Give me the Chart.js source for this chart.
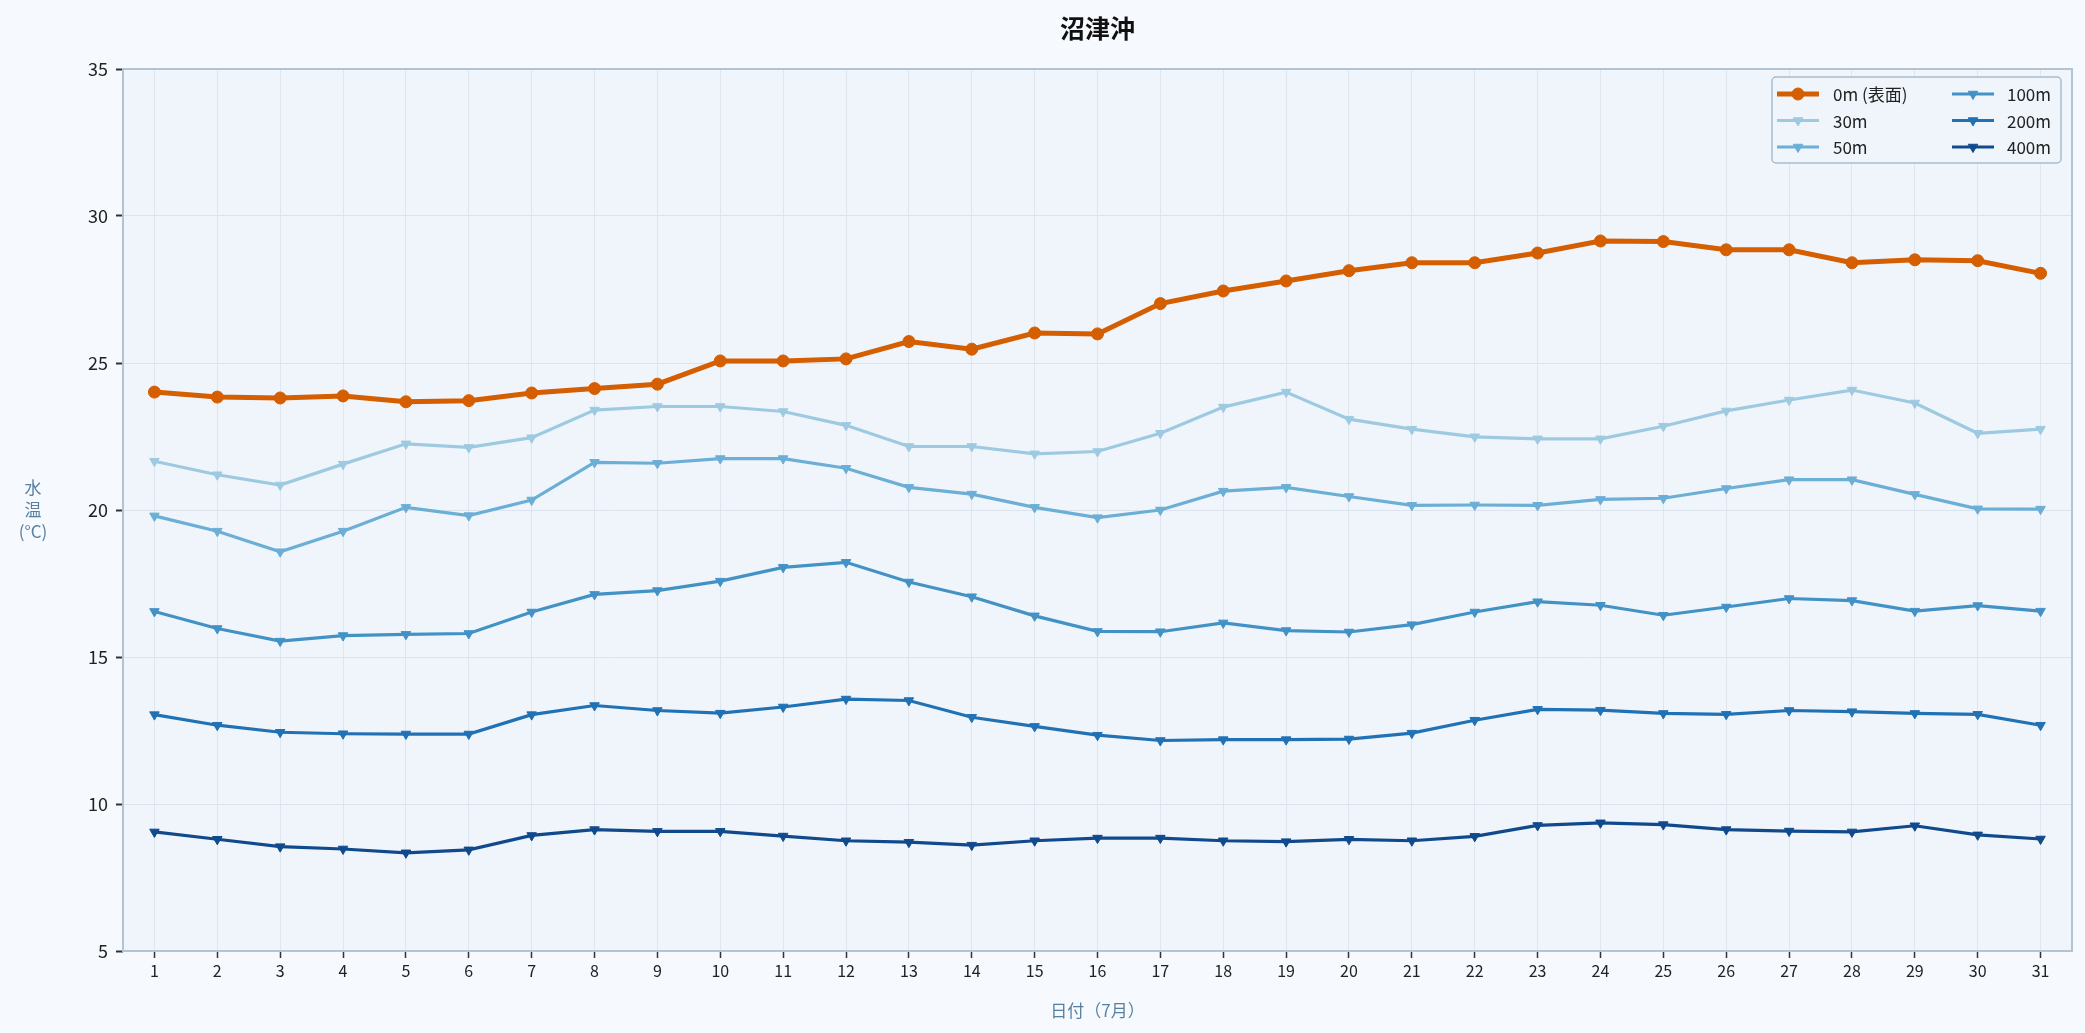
<!DOCTYPE html>
<html>
<head>
<meta charset="utf-8">
<script src="https://cdn.jsdelivr.net/npm/chart.js@4.4.1/dist/chart.umd.min.js"></script>
<style>
  html, body { margin: 0; padding: 0; background: #f6f9fd; }
  #wrap { width: 2085px; height: 1033px; }
</style>
</head>
<body>
<div id="wrap"><canvas id="js-chart-numazu"></canvas></div>
<script>
// Data (July, Numazu offshore water temperature)
const days = ['1','2','3','4','5','6','7','8','9','10','11','12','13','14','15','16','17','18','19','20','21','22','23','24','25','26','27','28','29','30','31'];
const depthLabels = ['0m (表面)', '30m', '50m', '100m', '200m', '400m'];
const temp0m   = [24.01, 23.84, 23.81, 23.88, 23.68, 23.72, 23.98, 24.13, 24.28, 25.07, 25.07, 25.14, 25.73, 25.47, 26.02, 25.99, 27.02, 27.45, 27.79, 28.14, 28.41, 28.41, 28.74, 29.15, 29.13, 28.85, 28.85, 28.41, 28.51, 28.48, 28.05];
const temp30m  = [21.66, 21.20, 20.85, 21.56, 22.25, 22.13, 22.46, 23.40, 23.52, 23.52, 23.35, 22.88, 22.16, 22.16, 21.91, 21.99, 22.61, 23.50, 24.01, 23.09, 22.75, 22.49, 22.42, 22.42, 22.85, 23.37, 23.74, 24.08, 23.64, 22.61, 22.75];
const temp50m  = [19.80, 19.28, 18.58, 19.28, 20.09, 19.81, 20.34, 21.62, 21.59, 21.75, 21.75, 21.42, 20.77, 20.54, 20.09, 19.74, 20.00, 20.64, 20.77, 20.46, 20.16, 20.17, 20.16, 20.36, 20.40, 20.73, 21.03, 21.03, 20.53, 20.04, 20.03];
const temp100m = [16.55, 15.97, 15.54, 15.73, 15.77, 15.80, 16.53, 17.13, 17.26, 17.58, 18.05, 18.22, 17.55, 17.05, 16.40, 15.87, 15.86, 16.16, 15.90, 15.85, 16.10, 16.53, 16.88, 16.76, 16.42, 16.70, 16.99, 16.92, 16.56, 16.75, 16.56];
const temp200m = [13.04, 12.68, 12.44, 12.39, 12.38, 12.38, 13.04, 13.35, 13.18, 13.09, 13.30, 13.57, 13.52, 12.95, 12.64, 12.34, 12.16, 12.19, 12.19, 12.21, 12.41, 12.85, 13.22, 13.19, 13.08, 13.05, 13.18, 13.14, 13.08, 13.05, 12.68];
const temp400m = [9.05, 8.80, 8.55, 8.47, 8.34, 8.44, 8.93, 9.13, 9.07, 9.07, 8.91, 8.75, 8.70, 8.60, 8.75, 8.84, 8.84, 8.75, 8.72, 8.80, 8.75, 8.90, 9.27, 9.36, 9.30, 9.13, 9.08, 9.05, 9.26, 8.95, 8.81];
const yTicks = [5, 10, 15, 20, 25, 30, 35];

const FONT = "'Noto Sans CJK JP', 'Noto Sans', sans-serif";

// Line helper: triangle-down markers for the deep layers
function depthSeries(label, data, color, width) {
  return {
    label: label,
    data: data,
    borderColor: color,
    backgroundColor: color,
    borderWidth: width,
    pointStyle: 'triangle',
    rotation: 180,
    pointRadius: 5.5,
    pointBorderWidth: 1,
    pointBorderColor: color,
    pointBackgroundColor: color,
    tension: 0
  };
}

// Draw plot background, frame, title, stacked y title and in-plot legend
const framePlugin = {
  id: 'framePlugin',
  beforeDraw(chart) {
    const {ctx, chartArea: a} = chart;
    ctx.save();
    ctx.fillStyle = '#f0f5fc';
    ctx.fillRect(a.left, a.top, a.right - a.left, a.bottom - a.top);
    ctx.restore();
  },
  afterDraw(chart) {
    const {ctx, chartArea: a} = chart;
    ctx.save();
    // frame
    ctx.strokeStyle = '#b2c4d4';
    ctx.lineWidth = 2;
    ctx.strokeRect(a.left, a.top, a.right - a.left, a.bottom - a.top);

    // title
    ctx.fillStyle = '#111';
    ctx.font = 'bold 25px ' + FONT;
    ctx.textAlign = 'center';
    ctx.textBaseline = 'middle';
    ctx.fillText('沼津沖', (a.left + a.right) / 2, 28);

    // y axis title, stacked horizontally
    ctx.fillStyle = '#5a80a0';
    ctx.font = '17px ' + FONT;
    const yc = (a.top + a.bottom) / 2;
    ['水', '温', '(°C)'].forEach((t, i) => ctx.fillText(t, 33, yc - 22 + i * 22));

    // legend (two columns, column-major)
    const ds = chart.data.datasets;
    const bx = 1772, by = 77, bw = 289, bh = 86;
    ctx.fillStyle = 'rgba(240,245,252,0.9)';
    ctx.strokeStyle = '#a9bccc';
    ctx.lineWidth = 1.5;
    ctx.beginPath();
    ctx.roundRect(bx, by, bw, bh, 4);
    ctx.fill();
    ctx.stroke();
    ctx.font = '17px ' + FONT;
    ctx.textAlign = 'left';
    const colX = [1777, 1952];
    const textX = [1833, 2007];
    ds.forEach((d, i) => {
      const col = Math.floor(i / 3), row = i % 3;
      const x0 = colX[col], y0 = by + 17 + row * 26.5;
      ctx.strokeStyle = d.borderColor;
      ctx.lineWidth = d.borderWidth;
      ctx.beginPath();
      ctx.moveTo(x0, y0);
      ctx.lineTo(x0 + 42, y0);
      ctx.stroke();
      ctx.fillStyle = d.pointBackgroundColor;
      ctx.strokeStyle = d.pointBorderColor;
      ctx.lineWidth = 1;
      Chart.helpers.drawPoint(ctx, {pointStyle: d.pointStyle, rotation: d.rotation || 0, radius: d.pointRadius, borderWidth: 1}, x0 + 21, y0);
      ctx.fillStyle = '#222';
      ctx.fillText(d.label, textX[col], y0 + 1);
    });
    ctx.restore();
  }
};

let chartCon = document.getElementById('js-chart-numazu');

let chartData = {
  labels: days,
  datasets: [
    {
      label: depthLabels[0],
      data: temp0m,
      borderColor: '#d45e00',
      backgroundColor: '#d45e00',
      borderWidth: 5,
      pointStyle: 'circle',
      pointRadius: 6,
      pointBorderWidth: 1,
      pointBorderColor: '#d45e00',
      pointBackgroundColor: '#d45e00',
      tension: 0
    },
    depthSeries(depthLabels[1], temp30m, '#9ecae1', 3.2),
    depthSeries(depthLabels[2], temp50m, '#6baed6', 3.2),
    depthSeries(depthLabels[3], temp100m, '#4292c6', 3.2),
    depthSeries(depthLabels[4], temp200m, '#2171b5', 3.2),
    depthSeries(depthLabels[5], temp400m, '#114a8c', 3.2)
  ]
};

// draw surface line last so it stays on top
chartData.datasets[0].order = -1;

let chartNumazu = new Chart(chartCon, {
  type: 'line',
  data: chartData,
  plugins: [framePlugin],
  options: {
    responsive: true,
    maintainAspectRatio: false,
    animation: false,
    devicePixelRatio: 1,
    layout: {padding: {left: 60, top: 69, right: 13, bottom: 0}},
    plugins: {
      legend: {display: false},
      title: {display: false},
      tooltip: {enabled: false}
    },
    scales: {
      x: {
        offset: true,
        grid: {
          color: '#dde5ee',
          lineWidth: 1,
          tickColor: '#333',
          tickLength: 7,
          tickWidth: 1.5,
          offset: false
        },
        border: {display: false},
        ticks: {
          color: '#222',
          padding: 3,
          maxRotation: 0,
          autoSkip: false,
          font: {family: "'Liberation Sans Narrow', " + FONT, size: 16}
        },
        title: {
          display: true,
          text: '日付（7月）',
          color: '#5a80a0',
          padding: {top: 4, bottom: 12},
          font: {family: FONT, size: 17}
        },
        afterFit(scale) { scale.height = 82; }
      },
      y: {
        min: 5,
        max: 35,
        afterBuildTicks(scale) { scale.ticks = yTicks.map(v => ({value: v})); },
        grid: {
          color: '#dbe4ee',
          lineWidth: 1,
          borderDash: [6, 5],
          tickBorderDash: [],
          tickColor: '#333',
          tickLength: 7,
          tickWidth: 2
        },
        border: {display: false},
        ticks: {
          color: '#222',
          padding: 8,
          font: {family: FONT, size: 18}
        },
        afterFit(scale) { scale.width = 63; }
      }
    }
  }
});
</script>
</body>
</html>
